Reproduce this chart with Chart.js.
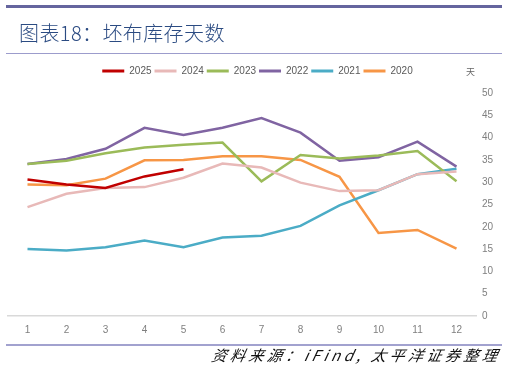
<!DOCTYPE html>
<html><head><meta charset="utf-8">
<script src="https://cdn.jsdelivr.net/npm/chart.js@4"></script>
<style>
html,body{margin:0;padding:0;background:#fff;}
#wrap{position:relative;width:507px;height:371px;overflow:hidden;}
#topbar{position:absolute;left:6px;top:5px;width:496px;height:3px;background:#65659e;}
#title{position:absolute;left:19px;top:18px;font-family:"Noto Sans CJK SC","Noto Sans",sans-serif;font-size:20px;font-weight:300;color:#2b4b82;letter-spacing:0.4px;line-height:30px;white-space:nowrap;}
#line1{position:absolute;left:6px;top:53px;width:496px;height:1px;background:#9c9ccc;}
#line2{position:absolute;left:6px;top:344px;width:496px;height:1.5px;background:#a2a2cf;}
#src{position:absolute;right:6px;top:346px;font-family:"Noto Sans CJK SC",sans-serif;font-size:15px;font-style:italic;color:#111;line-height:18px;white-space:nowrap;letter-spacing:3.5px;transform:skewX(-12deg);}
#unit{position:absolute;left:466px;top:65px;font-family:"Noto Sans CJK SC",sans-serif;font-size:9px;color:#666;}
canvas{position:absolute;left:0;top:0;}
</style></head><body>
<div id="wrap">
<canvas id="c" width="507" height="371"></canvas>
<div id="topbar"></div>
<div id="title">图表18：坯布库存天数</div>
<div id="line1"></div>
<div id="line2"></div>
<div id="unit">天</div>
<div id="src">资料来源：iFind, 太平洋证券整理</div>
</div>
<script>
const months = ['1','2','3','4','5','6','7','8','9','10','11','12'];
const yTicks = [0,5,10,15,20,25,30,35,40,45,50];
const s2025 = [30.6,29.5,28.7,31.3,32.9];
const s2024 = [24.4,27.4,28.7,28.9,31.0,34.2,33.3,29.9,28.0,28.2,31.8,32.4];
const s2023 = [34.1,34.8,36.5,37.8,38.4,38.9,30.2,36.1,35.3,36.0,37.0,30.2];
const s2022 = [34.1,35.2,37.5,42.2,40.6,42.2,44.4,41.1,34.8,35.6,39.1,33.5];
const s2021 = [15.0,14.7,15.4,16.9,15.4,17.6,18.0,20.2,24.8,28.2,31.8,33.0];
const s2020 = [29.5,29.3,30.8,34.9,35.0,35.8,35.8,35.0,31.2,18.6,19.3,15.1];

const FONT = '"Liberation Sans", Arial, sans-serif';
function ds(label,data,color){
  return {label,data,borderColor:color,backgroundColor:color,borderWidth:2.5,pointRadius:0,tension:0,fill:false};
}
const legendSpace = {
  id:'legendSpace',
  beforeInit(chart){
    const lg = chart.legend;
    if(!lg) return;
    const fit = lg.fit;
    lg.fit = function(){ fit.bind(lg)(); this.height += 7; };
  }
};
new Chart(document.getElementById('c'),{
  type:'line',
  plugins:[legendSpace],
  data:{labels:months,datasets:[
    ds('2025',s2025,'#c00000'),
    ds('2024',s2024,'#e8b9b8'),
    ds('2023',s2023,'#9bbb59'),
    ds('2022',s2022,'#8064a2'),
    ds('2021',s2021,'#4bacc6'),
    ds('2020',s2020,'#f79646')
  ]},
  options:{
    responsive:false,animation:false,
    layout:{padding:{top:63,left:8,right:0,bottom:25}},
    plugins:{
      tooltip:{enabled:false},
      legend:{position:'top',align:'center',
        labels:{boxWidth:22,boxHeight:3,padding:3,color:'#595959',font:{family:FONT,size:10},
          generateLabels(chart){
            const items = Chart.defaults.plugins.legend.labels.generateLabels(chart);
            items.forEach(i=>{i.lineWidth=0;});
            return items;
          }}
      }
    },
    scales:{
      x:{offset:true,grid:{display:false,drawTicks:false},border:{display:true,color:'#d9d9d9',width:1.5},
        ticks:{color:'#7f7f7f',padding:8,font:{family:FONT,size:10}},
        afterFit(s){s.height=30;}},
      y:{position:'right',min:0,max:50,
        afterBuildTicks(s){s.ticks=yTicks.map(v=>({value:v}));},
        grid:{display:false,drawTicks:false},border:{display:false},
        ticks:{color:'#7f7f7f',padding:6,font:{family:FONT,size:10}},
        afterFit(s){s.width=31;}}
    }
  }
});
</script>
</body></html>
